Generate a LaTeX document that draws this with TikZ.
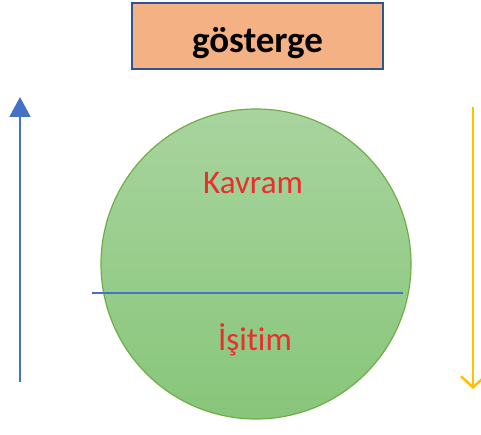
\documentclass[tikz,border=0pt]{standalone}
\usepackage{fontspec}
\setmainfont{Carlito}[Ligatures=NoCommon]
\usetikzlibrary{arrows.meta}

\definecolor{kutu}{RGB}{244,177,131}
\definecolor{kutucizgi}{RGB}{47,85,151}
\definecolor{mavi}{RGB}{68,114,196}
\definecolor{sari}{RGB}{255,192,0}
\definecolor{yesil}{RGB}{112,173,71}
\definecolor{yesilust}{RGB}{168,212,158}
\definecolor{yesilalt}{RGB}{136,198,122}
\definecolor{kirmizi}{RGB}{235,45,45}

\tikzset{
  baslik/.style={draw=kutucizgi, line width=2pt, fill=kutu, minimum width=251pt,
    minimum height=66pt, text height=42pt, text depth=8pt,
    font=\bfseries\fontsize{37}{37}\selectfont},
  daire/.style={circle, draw=yesil, line width=1.2pt, minimum size=310pt,
    top color=yesilust, bottom color=yesilalt},
  yazi/.style={text=kirmizi, font=\fontsize{33}{33}\selectfont}
}

\begin{document}
\begin{tikzpicture}[x=1pt,y=-1pt]
\useasboundingbox (0,0) rectangle (481,435);

\node[baslik] (gosterge) at (257.5,36) {gösterge};
\node[daire] (kume) at (256,264) {};
\node[yazi] (kavram) at (253,183) {Kavram};
\node[yazi] (isitim) at (255,340) {İşit\kern0pt im};

\coordinate (solcizgi) at (92,293);
\coordinate (sagcizgi) at (403,293);
\draw[mavi, line width=1.5pt] (solcizgi) -- (sagcizgi);

% yukari ve asagi oklar
\coordinate (yukarialt) at (20,382);
\coordinate (yukariust) at (20,97);
\coordinate (asagiust) at (473,107);
\coordinate (asagialt) at (473,389);
\draw[mavi, line width=2pt, -{Triangle[length=20pt,width=21pt]}] (yukarialt) -- (yukariust);
\draw[sari, line width=2.5pt, -{Straight Barb[length=11pt,width=24pt]}] (asagiust) -- (asagialt);
\end{tikzpicture}
\end{document}
